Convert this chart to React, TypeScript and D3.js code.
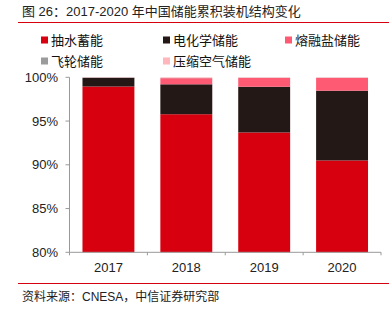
import React from "react";
import * as d3 from "d3";

const years = ["2017", "2018", "2019", "2020"];
const seriesNames = ["抽水蓄能", "电化学储能", "熔融盐储能", "飞轮储能", "压缩空气储能"];
const seriesColors = ["#D7000F", "#231815", "#FF5A73", "#9B9B9B", "#FFB6BC"];
const pumpedHydro = [98.95, 95.78, 93.7, 90.5];
const electrochemical = [1.0, 3.42, 5.22, 7.97];
const moltenSalt = [0.0, 0.7, 1.0, 1.45];
const flywheel = [0.02, 0.03, 0.03, 0.03];
const compressedAir = [0.03, 0.07, 0.05, 0.05];
const yTicks = [80, 85, 90, 95, 100];

const W = 389;
const H = 325;
const FONT = "'Liberation Sans', Arial, 'Noto Sans CJK SC', sans-serif";

export default function App() {
  const left = 69.5;
  const right = 381;
  const top = 77.3;
  const bottom = 252.3;

  const x = d3.scaleBand<string>().domain(years).range([left, right]).paddingInner(1 / 3).paddingOuter(1 / 6);
  const y = d3.scaleLinear().domain([80, 100]).range([bottom, top]);

  const rows = years.map((yr, i) => ({
    year: yr,
    s0: pumpedHydro[i],
    s1: electrochemical[i],
    s2: moltenSalt[i],
    s3: flywheel[i],
    s4: compressedAir[i],
  }));
  const stack = d3.stack<any>().keys(["s0", "s1", "s2", "s3", "s4"]);
  const stacked = stack(rows);

  const legendPos = [
    [41, 40], [163, 40], [285, 40],
    [41, 61], [163, 61],
  ];

  const xTickPositions = [left, ...years.map((yr) => (x(yr) as number) + x.bandwidth() + (x.step() - x.bandwidth()) / 2)];

  return (
    <svg width={W} height={H} style={{ position: "absolute", left: 0, top: 0, background: "#fff" }} fontFamily={FONT}>
      <text x={22} y={16} fontSize={13} fill="#222">图 26：2017-2020 年中国储能累积装机结构变化</text>
      <line x1={18} x2={389} y1={22.5} y2={22.5} stroke="#D7000F" strokeWidth={1} />

      {seriesNames.map((n, i) => (
        <g key={n}>
          <rect x={legendPos[i][0]} y={legendPos[i][1] - 3.5} width={7} height={7} fill={seriesColors[i]} />
          <text x={legendPos[i][0] + 10} y={legendPos[i][1]} dy="0.36em" fontSize={13} fill="#111">{n}</text>
        </g>
      ))}

      {stacked.map((layer, li) => (
        <g key={li} fill={seriesColors[li]}>
          {layer.map((d: any) => {
            const y0 = Math.max(d[0], 80);
            const y1 = Math.min(d[1], 100);
            if (y1 <= y0) return null;
            return (
              <rect
                key={d.data.year}
                x={x(d.data.year)}
                width={x.bandwidth()}
                y={y(y1)}
                height={y(y0) - y(y1)}
              />
            );
          })}
        </g>
      ))}

      <line x1={left} x2={left} y1={top} y2={bottom} stroke="#999" />
      {yTicks.map((t) => (
        <g key={t}>
          <line x1={left - 4} x2={left} y1={y(t)} y2={y(t)} stroke="#999" />
          <text x={58} y={y(t)} dy="0.36em" textAnchor="end" fontSize={13} fill="#222">{t}%</text>
        </g>
      ))}
      <line x1={left} x2={right} y1={bottom} y2={bottom} stroke="#999" />
      {xTickPositions.map((p, i) => (
        <line key={i} x1={p} x2={p} y1={bottom} y2={bottom + 3} stroke="#999" />
      ))}
      {years.map((yr) => (
        <text key={yr} x={(x(yr) as number) + x.bandwidth() / 2} y={267} dy="0.36em" textAnchor="middle" fontSize={13} fill="#222">{yr}</text>
      ))}

      <line x1={18} x2={389} y1={283.5} y2={283.5} stroke="#D7000F" strokeWidth={1} />
      <text x={22} y={297} dy="0.36em" fontSize={12} fill="#222">资料来源：CNESA，中信证券研究部</text>
    </svg>
  );
}
